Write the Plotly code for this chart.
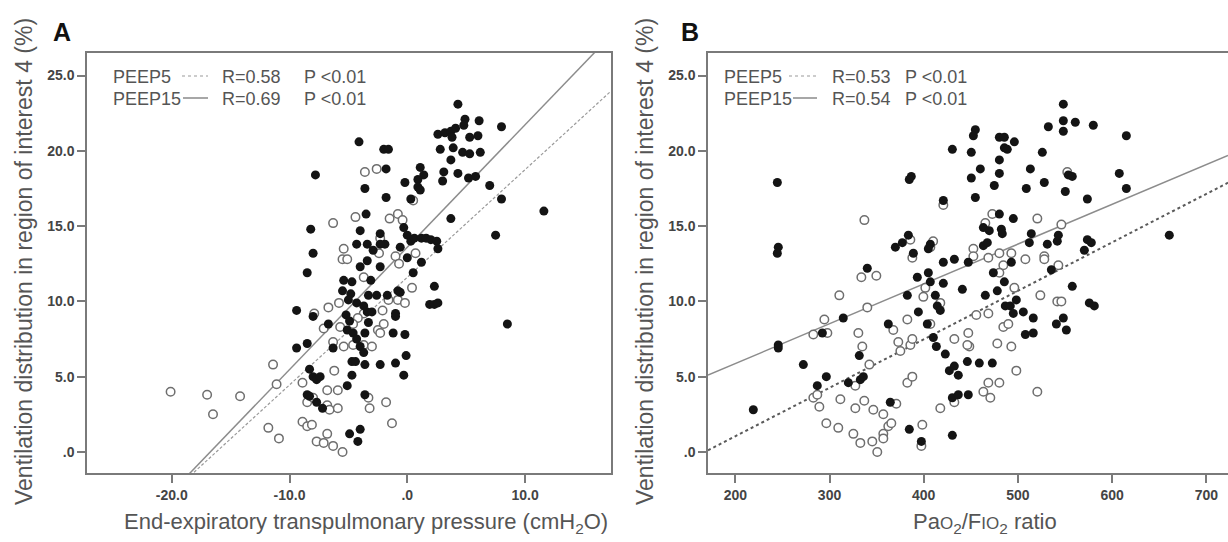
import plotly.graph_objects as go

# Panel A: end-expiratory transpulmonary pressure (cmH2O) vs ventilation in ROI 4 (%)
A_PEEP15 = [
    (-4.1, 20.6), (-2.0, 20.1), (-1.6, 20.1), (-1.8, 18.8), (-7.8, 18.4), (-3.6, 17.5), (-1.8, 16.9),
    (1.1, 18.9), (1.4, 18.4), (0.9, 18.1), (0.9, 17.6), (1.1, 17.4), (0.3, 16.8), (-0.2, 17.9),
    (-3.5, 15.8), (-4.0, 14.7), (-0.3, 14.9), (-2.3, 14.5), (-1.9, 13.8), (-2.3, 13.8),
    (-8.2, 14.8), (-8.0, 13.2), (-8.5, 11.9), (-4.3, 13.8), (-3.4, 13.8), (-2.9, 13.4), (-3.4, 12.7),
    (-4.0, 12.3), (-2.3, 12.3), (-5.4, 11.4), (-4.7, 11.3), (-5.5, 10.7), (-4.8, 10.5), (-3.1, 11.4),
    (-0.6, 13.6), (-0.8, 10.7), (0.5, 11.9), (0.0, 14.4), (0.3, 14.0), (0.0, 12.9),
    (4.3, 23.1), (4.9, 22.1), (4.8, 21.7), (6.1, 22.0), (8.0, 21.6),
    (2.6, 21.1), (3.2, 21.2), (3.7, 21.3), (4.1, 21.5),
    (3.8, 20.9), (5.3, 20.9), (6.0, 21.0),
    (2.8, 20.1), (3.9, 20.2), (4.7, 19.9), (5.3, 19.8), (6.2, 19.9),
    (3.7, 19.4), (3.1, 18.6), (3.0, 18.0), (4.3, 18.5), (5.2, 18.2), (5.8, 18.3),
    (7.0, 17.7), (8.0, 16.8), (11.6, 16.0), (3.7, 15.5), (7.5, 14.4),
    (0.6, 14.2), (1.2, 14.2), (1.6, 14.2), (2.0, 14.1), (2.5, 14.0), (2.6, 13.5),
    (1.2, 12.6), (2.3, 11.0), (1.9, 9.8), (2.3, 9.8), (2.6, 9.9), (8.5, 8.5),
    (-9.4, 9.4), (-8.0, 9.0), (-6.7, 8.5), (-9.4, 6.9), (-8.5, 7.2), (-6.3, 6.9),
    (-8.3, 5.5), (-8.0, 5.0), (-7.7, 4.8), (-7.4, 5.0),
    (-8.5, 3.8), (-8.3, 3.7), (-7.7, 3.3), (-7.2, 2.9),
    (-5.1, 4.4), (-4.7, 5.1), (-4.7, 6.0), (-4.4, 6.0), (-3.6, 5.8), (-3.6, 3.8),
    (-4.9, 1.2), (-4.0, 1.5), (-4.2, 0.7),
    (-2.3, 5.8), (-1.0, 5.9), (-0.1, 6.4), (-0.3, 5.1),
    (-1.2, 7.9), (-0.2, 7.8), (-1.0, 9.2), (-1.0, 9.0), (-0.6, 10.6),
    (-5.2, 9.1), (-4.9, 8.7), (-5.1, 8.1), (-4.6, 7.9), (-4.3, 7.5), (-3.6, 7.9),
    (-3.3, 8.6), (-3.4, 9.3), (-3.0, 9.3), (-4.0, 7.0), (-3.7, 6.6),
    (-5.0, 10.1), (-4.3, 9.9), (-3.7, 9.7), (-3.3, 10.4), (-2.6, 10.4), (-1.7, 10.4),
]
A_PEEP5 = [
    (-3.6, 18.6), (-2.6, 18.8), (-6.3, 15.2), (-4.4, 15.6), (-1.5, 15.5), (-0.8, 15.8), (-0.4, 15.4), (0.5, 16.7),
    (-5.4, 13.5), (-5.5, 12.8), (-5.1, 12.8), (-2.3, 14.2), (-2.4, 13.2), (-1.0, 13.0), (-0.7, 12.5),
    (-3.7, 11.6), (0.7, 13.2), (0.4, 10.9),
    (-20.1, 4.0), (-17.0, 3.8), (-16.5, 2.5), (-14.2, 3.7), (-11.4, 5.8), (-11.1, 4.5), (-11.8, 1.6), (-10.9, 0.9),
    (-8.9, 4.6), (-8.9, 2.0), (-8.5, 1.7), (-8.1, 1.8), (-8.5, 3.3), (-8.0, 3.6),
    (-7.7, 0.7), (-7.1, 0.6), (-6.8, 1.2), (-6.3, 0.4), (-5.5, 0.0),
    (-6.8, 3.1), (-6.6, 2.8), (-5.9, 2.9), (-6.8, 4.1), (-5.9, 4.1), (-6.2, 5.4), (-6.3, 7.3),
    (-5.4, 7.0), (-4.6, 7.1), (-6.7, 9.6), (-5.8, 9.9), (-7.9, 9.2), (-7.1, 8.2), (-5.7, 8.3),
    (-3.3, 3.6), (-3.2, 2.9), (-1.8, 3.3), (-1.3, 1.9), (-3.7, 7.1), (-3.0, 7.0),
    (-2.1, 9.4), (-2.0, 8.5), (-2.5, 8.1), (-2.3, 7.9), (-1.6, 10.1), (-0.8, 10.1), (-0.2, 9.9),
    (-3.7, 9.2), (-4.2, 8.9), (-4.6, 8.5),
]

# Panel B: PaO2/FIO2 ratio vs ventilation in ROI 4 (%)
B_PEEP15 = [
    (244.6, 17.9), (245.6, 13.6), (244.6, 13.2), (386.8, 18.3), (384.7, 18.1), (430.4, 20.1), (450.5, 19.9),
    (454.8, 21.4), (452.7, 21.0), (450.5, 18.2), (454.8, 16.9), (420.8, 16.7), (383.7, 14.4), (377.3, 13.9),
    (369.9, 13.6), (389.0, 13.2), (407.0, 13.8), (404.9, 13.5), (420.8, 12.6), (432.5, 12.8), (447.3, 12.6),
    (340.1, 12.2), (393.2, 11.6), (404.9, 11.9), (407.0, 11.3), (420.8, 11.2), (441.0, 10.8), (382.6, 10.4),
    (412.3, 10.4),
    (548.2, 23.1), (548.2, 22.0), (560.9, 21.9), (580.0, 21.7), (532.3, 21.6), (548.2, 21.3), (615.1, 21.0),
    (480.3, 20.9), (485.6, 20.9), (496.2, 20.6), (485.6, 20.2), (488.7, 20.1), (525.9, 19.9), (480.3, 19.4),
    (480.3, 18.5), (460.1, 18.8), (474.9, 17.7), (513.2, 18.8), (508.9, 17.5), (528.0, 17.9), (553.5, 18.4),
    (557.7, 18.3), (607.6, 18.5), (615.1, 17.5), (550.3, 17.3), (573.7, 16.8), (480.3, 15.8), (495.1, 15.5),
    (463.3, 14.9), (469.6, 14.7), (482.4, 14.8), (483.4, 14.5), (514.2, 14.5), (463.3, 13.7), (467.5, 13.9),
    (512.1, 13.9), (531.2, 13.8), (541.8, 14.0), (542.9, 14.4), (573.7, 14.1), (577.9, 13.9), (570.5, 13.4),
    (660.7, 14.4), (493.0, 12.6), (473.9, 11.9), (485.6, 11.3), (478.1, 10.7), (465.4, 10.4), (535.5, 12.1),
    (557.7, 11.0),
    (219.1, 2.8), (245.6, 7.1), (245.6, 6.9), (272.2, 5.8), (287.0, 4.4), (296.6, 5.0), (292.4, 7.9),
    (314.6, 8.9), (320.0, 4.6), (331.6, 6.4), (332.7, 4.8), (335.9, 5.0), (362.4, 8.5), (364.5, 3.3),
    (394.3, 9.3), (403.8, 8.5), (414.4, 9.7), (417.6, 9.4), (410.2, 7.6), (413.4, 7.0), (422.9, 6.5),
    (427.2, 5.4), (432.5, 5.7), (436.7, 5.1), (446.3, 6.0), (459.0, 5.9), (472.8, 5.9), (430.4, 3.6),
    (436.7, 3.8), (447.3, 3.8), (384.7, 1.5), (397.5, 0.7), (430.4, 1.1),
    (498.3, 10.1), (486.6, 9.7), (491.9, 9.7), (495.1, 9.2), (505.7, 9.3), (516.3, 8.9), (575.8, 9.9),
    (581.1, 9.7), (548.2, 8.9), (540.8, 8.5), (551.4, 8.1), (507.9, 7.8), (516.3, 7.9),
]
B_PEEP5 = [
    (337.0, 15.4), (420.8, 16.4), (385.8, 14.1), (387.9, 12.9), (410.0, 14.0), (407.0, 13.6), (333.8, 11.6),
    (349.7, 11.7), (310.4, 10.4), (452.7, 13.5), (452.7, 13.0), (401.7, 10.9), (399.6, 10.3),
    (472.8, 15.8), (465.4, 15.2), (520.6, 15.5), (546.1, 15.1), (552.4, 18.6), (468.6, 12.9), (480.3, 13.2),
    (493.0, 13.2), (484.5, 12.4), (480.3, 11.9), (507.9, 12.8), (528.0, 13.0), (528.0, 12.8), (542.9, 12.4),
    (496.2, 10.9), (523.8, 10.4),
    (340.1, 9.6), (294.5, 8.8), (297.7, 7.9), (282.8, 7.8), (330.6, 7.9), (334.8, 7.0), (342.3, 5.8),
    (327.4, 4.4), (282.8, 3.6), (287.0, 3.8), (289.2, 3.0), (311.5, 3.5), (296.6, 1.9), (309.3, 1.6),
    (325.3, 1.2), (332.7, 0.6), (327.4, 2.9), (336.9, 3.4), (346.5, 2.8), (357.1, 2.5), (345.4, 0.7),
    (350.7, 0.0), (357.1, 1.2), (357.1, 0.9), (362.4, 1.7), (365.6, 1.9), (370.9, 3.2), (367.7, 8.1),
    (373.0, 7.3), (375.2, 6.7), (385.8, 7.1), (387.9, 7.5), (382.6, 8.8), (382.6, 4.6), (387.9, 5.0),
    (398.5, 1.8), (397.5, 0.4), (407.0, 8.5), (417.6, 9.9), (417.6, 2.9), (432.5, 7.5), (432.5, 3.3),
    (447.3, 7.9), (448.4, 7.0), (446.3, 7.1), (455.8, 9.1),
    (541.8, 10.0), (546.1, 10.0), (468.6, 9.2), (484.5, 8.3), (489.8, 8.5), (478.1, 7.2), (493.0, 7.0),
    (498.3, 5.4), (468.6, 4.6), (480.3, 4.6), (463.3, 4.0), (470.7, 3.6), (520.6, 4.0),
]

# regression lines: (intercept, slope)
A_FIT = {'PEEP5': (11.6, 0.715), 'PEEP15': (13.6, 0.813)}
B_FIT = {'PEEP5': (-5.4, 0.0322), 'PEEP15': (0.58, 0.02645)}

A_STATS = [('PEEP5', 'R=0.58', 'P <0.01'), ('PEEP15', 'R=0.69', 'P <0.01')]
B_STATS = [('PEEP5', 'R=0.53', 'P <0.01'), ('PEEP15', 'R=0.54', 'P <0.01')]

A_X_RANGE = [-27.2, 17.3]
B_X_RANGE = [171, 723]
Y_RANGE = [-1.4, 26.5]

A_X_TICKS = [-20, -10, 0, 10]
A_X_TICKTEXT = ['-20.0', '-10.0', '.0', '10.0']
B_X_TICKS = [200, 300, 400, 500, 600, 700]
Y_TICKS = [0, 5, 10, 15, 20, 25]
Y_TICKTEXT = ['.0', '5.0', '10.0', '15.0', '20.0', '25.0']

Y_TITLE = 'Ventilation distribution in region of interest 4 (%)'
A_X_TITLE = 'End-expiratory transpulmonary pressure (cmH<sub>2</sub>O)'
B_X_TITLE = 'Pa<span style="font-size:17px">O</span><sub>2</sub>/F<span style="font-size:17px">IO</span><sub>2</sub> ratio'

FONT = 'Liberation Sans, Arial, sans-serif'
TEXT_COLOR = '#555555'
AXIS_COLOR = '#7a7a7a'
DOT_COLOR = '#141414'
RING_COLOR = '#6e6e6e'

W, H = 1228, 542
ML, MT, MB = 87, 53, 69
PLOT_W = W - ML
PLOT_H = H - MT - MB

# the page body has a default margin; drop it so the figure sits at the top-left corner
NO_BODY_MARGIN = "document.body.style.margin = '0'; document.body.style.overflow = 'hidden';"


def paper_x(px):
    return (px - ML) / PLOT_W


def paper_y(py):
    return (H - MB - py) / PLOT_H


def scatter(points, filled, xaxis, yaxis):
    xs, ys = zip(*points)
    if filled:
        marker = dict(size=9, color=DOT_COLOR, line=dict(width=0))
    else:
        marker = dict(size=8.5, color='white', line=dict(width=1.5, color=RING_COLOR))
    return go.Scatter(x=xs, y=ys, mode='markers', marker=marker, xaxis=xaxis, yaxis=yaxis,
                      showlegend=False, hoverinfo='skip')


def fit_line(fit, x_range, style, xaxis, yaxis):
    b0, b1 = fit
    xs = list(x_range)
    ys = [b0 + b1 * x for x in xs]
    return go.Scatter(x=xs, y=ys, mode='lines', line=style, xaxis=xaxis, yaxis=yaxis,
                      showlegend=False, hoverinfo='skip')


A_SOLID = dict(color='#8c8c8c', width=1.5)
A_DOTTED = dict(color='#9a9a9a', width=1.2, dash='3px,2px')
B_SOLID = dict(color='#8c8c8c', width=1.5)
B_DOTTED = dict(color='#5a5a5a', width=2, dash='dot')

data = [
    fit_line(A_FIT['PEEP15'], A_X_RANGE, A_SOLID, 'x', 'y'),
    fit_line(A_FIT['PEEP5'], A_X_RANGE, A_DOTTED, 'x', 'y'),
    scatter(A_PEEP5, False, 'x', 'y'),
    scatter(A_PEEP15, True, 'x', 'y'),
    fit_line(B_FIT['PEEP15'], B_X_RANGE, B_SOLID, 'x2', 'y2'),
    fit_line(B_FIT['PEEP5'], B_X_RANGE, B_DOTTED, 'x2', 'y2'),
    scatter(B_PEEP5, False, 'x2', 'y2'),
    scatter(B_PEEP15, True, 'x2', 'y2'),
]

axis_style = dict(
    showline=True, linecolor=AXIS_COLOR, linewidth=1.5,
    ticks='outside', ticklen=8, tickwidth=1.5, tickcolor=AXIS_COLOR,
    showgrid=False, zeroline=False,
    tickfont=dict(family=FONT, size=14, color='#444444', weight='bold'),
)

annotations = []
shapes = []


def text(px, py, s, size, color=TEXT_COLOR, xanchor='left', angle=0, bold=False):
    annotations.append(dict(
        x=paper_x(px), y=paper_y(py), xref='paper', yref='paper', text=s, showarrow=False,
        xanchor=xanchor, yanchor='middle', textangle=angle,
        font=dict(family=FONT, size=size, color=color, weight='bold' if bold else 'normal'),
    ))


def legend_block(stats, x_name, sample_x, x_r, x_p, styles):
    for row, ((name, r, p), (x0, x1), style) in enumerate(zip(stats, sample_x, styles)):
        py = 77 + row * 22
        text(x_name, py, name, 18)
        text(x_r, py, r, 18)
        text(x_p, py, p, 18)
        shapes.append(dict(type='line', xref='paper', yref='paper',
                           x0=paper_x(x0), x1=paper_x(x1), y0=paper_y(py - 1), y1=paper_y(py - 1),
                           line=style))


legend_block(A_STATS, 111, [(182, 208), (183, 208)], 220, 302,
             [dict(color='#999999', width=1, dash='dot'), dict(color='#777777', width=1.3)])
legend_block(B_STATS, 722, [(789, 817), (793, 817)], 830, 903,
             [dict(color='#999999', width=1, dash='dot'), dict(color='#777777', width=1.3)])

text(62, 32, 'A', 25, color='#111111', xanchor='center', bold=True)
text(690, 32, 'B', 25, color='#111111', xanchor='center', bold=True)
text(24, 262, Y_TITLE, 23, xanchor='center', angle=-90)
text(645, 262, Y_TITLE, 23, xanchor='center', angle=-90)
text(366, 523, A_X_TITLE, 22, xanchor='center')
text(985, 523, B_X_TITLE, 22, xanchor='center')

fig = go.Figure(data=data)
fig.update_layout(
    width=W, height=H,
    margin=dict(l=ML, r=0, t=MT, b=MB),
    paper_bgcolor='white', plot_bgcolor='white',
    xaxis=dict(axis_style, domain=[0, paper_x(611)], range=A_X_RANGE, mirror=True,
               tickvals=A_X_TICKS, ticktext=A_X_TICKTEXT),
    yaxis=dict(axis_style, domain=[0, 1], range=Y_RANGE, mirror=True,
               tickvals=Y_TICKS, ticktext=Y_TICKTEXT),
    xaxis2=dict(axis_style, domain=[paper_x(708), 1], range=B_X_RANGE, mirror=True,
                tickvals=B_X_TICKS, anchor='y2'),
    yaxis2=dict(axis_style, domain=[0, 1], range=Y_RANGE, mirror=False,
                tickvals=Y_TICKS, ticktext=Y_TICKTEXT, anchor='x2'),
    annotations=annotations,
    shapes=shapes,
)

fig.write_html("out.html", post_script=NO_BODY_MARGIN, config={'displayModeBar': False})
